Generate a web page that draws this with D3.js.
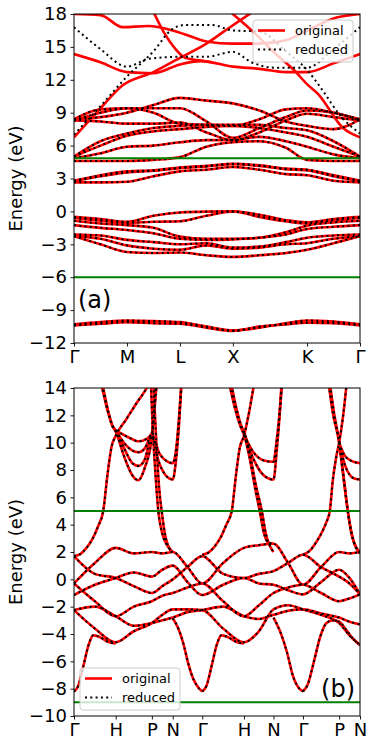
<!DOCTYPE html>
<html><head><meta charset="utf-8">
<script src="https://cdn.jsdelivr.net/npm/d3@7"></script>
<style>body{margin:0;background:#fff;} svg{display:block;font-family:"DejaVu Sans",sans-serif;}</style>
</head><body><svg id="c" width="374" height="747"></svg>
<script>
// ---------------- Panel (a) data ----------------
const kLabelsA = ["Γ","M","L","X","K","Γ"];
const kTicksA = [0,1,2,3,4.4,5.4];
const kGridA = [0,0.5,1,1.5,2,2.5,3,3.5,4,4.4,4.9,5.4];
const yTicksA = [-12,-9,-6,-3,0,3,6,9,12,15,18];
const greenA = [4.85,-6];
// bands where original and reduced coincide (values on kGridA)
const sharedA = [
  [-10.3,-10.1,-9.95,-10.0,-10.1,-10.5,-10.85,-10.6,-10.2,-9.95,-10.05,-10.3],
  [-10.4,-10.25,-10.1,-10.2,-10.25,-10.6,-10.9,-10.5,-10.3,-10.15,-10.2,-10.4],
  [-0.5,-0.7,-0.95,-0.4,-0.1,-0.02,0.0,-0.3,-0.8,-1.0,-0.7,-0.5],
  [-0.6,-0.85,-1.05,-0.95,-0.9,-0.4,0.0,-0.5,-0.9,-1.1,-0.8,-0.6],
  [-0.85,-1.1,-1.25,-1.5,-2.3,-2.5,-2.5,-2.4,-1.9,-1.3,-1.0,-0.85],
  [-1.25,-1.5,-1.7,-2.0,-2.5,-2.6,-2.55,-2.4,-2.1,-1.6,-1.4,-1.25],
  [-2.1,-2.2,-2.6,-2.8,-3.0,-2.9,-3.3,-3.2,-2.8,-2.4,-2.2,-2.1],
  [-2.25,-2.5,-3.1,-3.4,-3.5,-3.1,-3.4,-3.3,-3.0,-2.9,-2.5,-2.25],
  [-2.25,-3.0,-3.7,-3.8,-3.75,-4.0,-4.15,-4.0,-3.8,-3.5,-2.9,-2.25],
  [2.65,2.65,2.7,3.2,3.65,3.8,4.05,3.8,3.4,3.3,2.8,2.65],
  [2.75,3.2,3.55,3.7,3.95,4.1,4.3,4.15,3.85,3.75,3.2,2.75],
  [2.8,3.3,3.65,3.75,4.0,4.15,4.35,4.2,3.9,3.8,3.3,2.8],
  [4.6,4.6,4.6,4.7,4.95,5.9,6.3,6.4,5.8,4.7,4.6,4.6],
  [4.85,5.3,5.9,6.0,6.3,6.5,6.5,6.8,6.4,5.9,5.2,4.85],
  [5.0,6.0,6.9,7.3,7.5,7.7,7.8,7.6,7.2,6.8,5.9,5.0],
  [5.0,6.4,7.1,7.6,7.8,7.9,7.9,7.9,7.6,7.4,6.4,5.0],
  [8.3,8.2,8.0,8.0,8.1,7.2,6.5,7.2,8.3,8.9,8.6,8.3],
  [8.3,9.0,9.4,9.4,9.4,8.2,6.7,7.6,8.6,9.2,9.0,8.3],
  [8.4,9.3,9.4,9.0,8.0,7.9,7.8,8.4,9.3,9.4,9.0,8.4],
  [8.4,8.6,9.0,9.7,10.35,10.1,9.85,9.2,8.2,7.8,7.5,8.4]
];
// bands seen only in the original (red) — [k, E]
const origOnlyA = [
  [[0,6.75],[0.5,9.4],[0.92,11.5],[1.5,12.7],[2,14.0],[2.5,15.3],[2.8,16.3],[3.1,17.3],[3.5,18.6]],
  [[2.9,18.4],[3.4,16.3],[3.8,14.4],[4.17,12.8],[4.4,11.6],[4.61,10.7],[5.08,7.6],[5.4,6.75]],
  [[0,14.35],[0.5,13.6],[1,12.7],[1.5,12.6],[2,13.4],[2.4,13.7],[3,13.2],[3.5,13.0],[4,12.7],[4.4,12.7],[4.9,13.5],[5.4,14.35]],
  [[0,18.0],[0.5,17.9],[0.92,16.8],[1.4,16.9],[2,16.3],[2.5,15.5],[3,15.3],[3.5,15.3],[4,15.6],[4.4,16.5],[4.9,17.6],[5.4,18.0]],
  [[1.5,18.2],[1.7,16.3],[1.9,14.9],[2.1,14.0],[2.4,13.75],[2.6,13.6]]
];
// bands seen only in the reduced model (black dotted) — [k, E]
const reducedOnlyA = [
  [[0,7.0],[0.5,9.6],[1,12.3],[1.5,14.6],[1.85,16.6],[2.1,17.0],[2.6,17.0],[3,16.5],[3.5,16.4],[4.0,14.6],[4.4,12.9],[4.7,11.0],[5.0,8.9],[5.4,7.1]],
  [[0,16.8],[0.5,14.8],[1,13.2],[1.4,13.9],[2,14.1],[2.5,14.1],[3,14.55],[3.35,13.6],[3.8,13.1],[4.4,13.1],[4.9,14.8],[5.4,16.8]]
];

// ---------------- Panel (b) data ----------------
const kLabelsB = ["Γ","H","P","N","Γ","H","N","Γ","P","N"];
const kTicksB = [0,1,1.866,2.366,3.073,4.073,4.78,5.487,6.353,6.853];
const kGridB = [0,0.5,1,1.433,1.866,2.116,2.366,2.72,3.073,3.573,4.073,4.43,4.78,5.13,5.487,5.92,6.353,6.6,6.853];
const yTicksB = [-10,-8,-6,-4,-2,0,2,4,6,8,10,12,14];
const greenB = [5,-9];
const dBandsB = [
  [1.7,0.4,0.1,-0.5,-1.0,-0.5,0.0,0.9,1.7,0.4,0.1,0.4,0.6,1.2,1.8,0.9,0.2,-0.3,-1.1],
  [-0.3,1.2,2.3,1.9,2.0,1.9,2.0,0.9,-0.3,1.2,2.3,2.5,2.6,1.2,-0.4,0.9,2.0,1.9,2.0],
  [-0.3,-1.6,-2.7,-2.0,-1.6,-1.2,-1.0,-0.6,-0.3,-1.6,-2.7,-1.9,-1.0,-0.6,-0.4,-1.0,-1.6,-1.4,-1.1],
  [-1.15,-0.4,0.1,0.5,0.2,0.7,1.0,-0.2,-1.15,-0.4,0.1,-0.3,-0.4,-0.8,-1.1,-0.2,0.7,0.1,-1.1],
  [-2.25,-2.0,-2.7,-3.4,-3.2,-3.0,-2.8,-2.4,-2.25,-2.0,-2.7,-2.9,-2.6,-2.3,-2.2,-2.5,-2.8,-3.1,-3.3],
  [-2.25,-3.6,-4.6,-3.8,-3.2,-2.6,-2.2,-2.2,-2.25,-3.6,-4.6,-3.8,-2.2,-1.9,-2.2,-2.6,-3.2,-4.1,-4.8]
];
const spBandsB = [
  [[0,-8.2],[0.1,-7.8],[0.22,-6.4],[0.35,-4.8],[0.46,-4.1],[0.6,-4.2],[0.8,-4.55],[1,-4.7]],
  [[0,1.7],[0.15,1.85],[0.3,2.3],[0.45,3.0],[0.58,3.9],[0.7,5.0],[0.8,7.6],[0.9,9.7],[1,10.5],[1.25,11.7],[1.5,12.9],[1.78,14.2],[1.9,15.0]],
  [[2.366,-2.85],[2.5,-3.6],[2.62,-4.7],[2.75,-6.3],[2.86,-7.3],[3.0,-8.0],[3.073,-8.2]],
  [[3.073,-8.2],[3.173,-7.8],[3.293,-6.4],[3.42,-4.8],[3.53,-4.1],[3.67,-4.2],[3.87,-4.55],[4.073,-4.7]],
  [[3.073,1.8],[3.22,1.95],[3.37,2.4],[3.52,3.1],[3.65,4.0],[3.78,5.0],[3.88,7.6],[3.97,9.6],[4.073,10.5],[4.2,12.3],[4.33,14.5],[4.38,15.2]],
  [[4.78,-2.8],[4.95,-3.9],[5.1,-5.3],[5.25,-7.1],[5.4,-8.0],[5.487,-8.2]],
  [[5.487,-8.2],[5.6,-7.7],[5.75,-6.0],[5.9,-4.2],[6.05,-3.2],[6.2,-3.0],[6.353,-3.1],[6.5,-3.6],[6.7,-4.4],[6.853,-4.8]],
  [[5.487,1.8],[5.65,2.1],[5.8,2.7],[5.95,3.5],[6.05,4.2],[6.13,5.0],[6.2,7.2],[6.28,8.9],[6.353,10.0],[6.45,12.0],[6.53,14.2],[6.56,15.0]]
];
const upperBandsB = [
  [[0.6,15],[0.66,14.2],[0.8,12.4],[0.92,11.2],[1,10.8],[1.2,9.0],[1.4,7.6],[1.54,7.25],[1.7,8.2],[1.866,10.4],[1.92,12.5],[1.97,14.5]],
  [[0.63,15],[0.7,14.0],[0.82,12.3],[0.93,11.2],[1,10.9],[1.2,9.6],[1.4,8.5],[1.55,8.3],[1.7,8.8],[1.866,10.5],[2.05,9.2],[2.25,8.6],[2.366,8.5],[2.45,9.6],[2.52,12],[2.58,14.6]],
  [[1,10.9],[1.25,9.8],[1.45,9.35],[1.55,9.3],[1.7,9.6],[1.866,10.6],[2.0,8.9],[2.2,7.6],[2.366,7.3],[2.44,8.6],[2.52,11.5],[2.58,14.6]],
  [[1,10.9],[1.3,10.4],[1.55,10.1],[1.75,10.3],[1.866,10.7],[1.93,12.5],[1.99,14.6]],
  [[1.84,14.6],[1.88,11.5],[1.95,7.8],[2.02,5.0],[2.12,3.3],[2.25,2.4],[2.366,2.0]],
  [[1.9,14.6],[1.96,10.8],[2.04,6.7],[2.1,5.0],[2.2,3.0],[2.3,2.2],[2.366,2.0]],
  [[3.7,14.6],[3.85,12.6],[4.0,11.1],[4.073,10.6],[4.2,9.0],[4.35,6.5],[4.45,5.0],[4.55,3.4],[4.65,2.7],[4.78,2.6]],
  [[3.75,14.6],[3.9,12.4],[4.0,11.3],[4.073,10.8],[4.2,9.4],[4.35,7.0],[4.5,5.0],[4.6,3.3],[4.7,2.4],[4.78,2.0]],
  [[4.073,10.6],[4.3,9.3],[4.55,8.7],[4.78,8.6],[4.85,10],[4.92,12],[4.98,14.6]],
  [[4.073,10.6],[4.3,8.8],[4.55,7.6],[4.78,7.3],[4.86,9.5],[4.94,12.5],[4.99,14.6]],
  [[6.09,14.6],[6.2,12.2],[6.353,10.0],[6.45,7.6],[6.56,5.0],[6.65,3.3],[6.75,2.4],[6.853,2.0]],
  [[6.12,14.6],[6.23,12.2],[6.353,10.1],[6.47,7.3],[6.58,4.6],[6.7,2.8],[6.853,1.9]],
  [[6.353,10.0],[6.5,9.0],[6.7,8.6],[6.853,8.5]],
  [[6.353,10.0],[6.5,8.3],[6.7,7.4],[6.853,7.3]]
];

// ---------------- drawing ----------------
const svg = d3.select("#c");
const RED = "#ff0000";
const minus = d => d < 0 ? "\u2212" + Math.abs(d) : String(d);

function drawPanel(id, x, y, yTicks, kTicks, kLabels, origBands, redBands, greens, legendPos, tag) {
  const [x0, x1] = x.range(); const [y0, y1] = y.range();
  const g = svg.append("g");
  svg.append("clipPath").attr("id", "clip" + id).append("rect")
    .attr("x", x0).attr("y", y1).attr("width", x1 - x0).attr("height", y0 - y1);
  const plot = g.append("g").attr("clip-path", `url(#clip${id})`);
  const line = d3.line().x(d => x(d[0])).y(d => y(d[1])).curve(d3.curveMonotoneX);
  plot.selectAll("path.orig").data(origBands).join("path").attr("class", "orig")
    .attr("d", line).attr("fill", "none").attr("stroke", RED).attr("stroke-width", 2.6);
  plot.selectAll("path.red").data(redBands).join("path").attr("class", "red")
    .attr("d", line).attr("fill", "none").attr("stroke", "#000").attr("stroke-width", 2)
    .attr("stroke-dasharray", "2,3.3");
  plot.selectAll("line.green").data(greens).join("line").attr("class", "green")
    .attr("x1", x0).attr("x2", x1).attr("y1", d => y(d)).attr("y2", d => y(d))
    .attr("stroke", "#008000").attr("stroke-width", 2);
  const ya = g.append("g").attr("transform", `translate(${x0},0)`)
    .call(d3.axisLeft(y).tickValues(yTicks).tickSize(3.5).tickPadding(3.5).tickFormat(minus));
  const xa = g.append("g").attr("transform", `translate(0,${y0})`)
    .call(d3.axisBottom(x).tickValues(kTicks).tickSize(3.5).tickPadding(3.5).tickFormat((d, i) => kLabels[i]));
  [ya, xa].forEach(a => {
    a.select(".domain").remove();
    a.selectAll("text").attr("font-size", 18).attr("fill", "#000").attr("font-family", "DejaVu Sans");
    a.selectAll("line").attr("stroke", "#000").attr("stroke-width", 0.9);
  });
  g.append("rect").attr("x", x0).attr("y", y1).attr("width", x1 - x0).attr("height", y0 - y1)
    .attr("fill", "none").attr("stroke", "#000").attr("stroke-width", 1);
  g.append("text").attr("transform", `translate(22,${(y0 + y1) / 2}) rotate(-90)`)
    .attr("text-anchor", "middle").attr("font-size", 18).text("Energy (eV)");
  const lg = g.append("g").attr("transform", `translate(${legendPos[0]},${legendPos[1]})`);
  lg.append("rect").attr("x", 0).attr("y", 0).attr("width", 100).attr("height", 42).attr("rx", 3)
    .attr("fill", "#fff").attr("fill-opacity", 0.8).attr("stroke", "#cccccc").attr("stroke-width", 1);
  lg.append("line").attr("x1", 5).attr("x2", 32).attr("y1", 10.5).attr("y2", 10.5)
    .attr("stroke", RED).attr("stroke-width", 2.6);
  lg.append("line").attr("x1", 5).attr("x2", 32).attr("y1", 29.5).attr("y2", 29.5)
    .attr("stroke", "#000").attr("stroke-width", 2).attr("stroke-dasharray", "2,3.3");
  lg.append("text").attr("x", 42).attr("y", 15).attr("font-size", 13).text("original");
  lg.append("text").attr("x", 42).attr("y", 34).attr("font-size", 13).text("reduced");
  g.append("text").attr("x", tag.x).attr("y", tag.y).attr("text-anchor", tag.anchor)
    .attr("font-size", 24).text(tag.text);
}

const xA = d3.scaleLinear().domain([0, 5.4]).range([74, 360]);
const yA = d3.scaleLinear().domain([-12, 18]).range([343, 14]);
const sharedPairsA = sharedA.map(b => kGridA.map((k, i) => [k, b[i]]));
drawPanel("a", xA, yA, yTicksA, kTicksA, kLabelsA,
  sharedPairsA.concat(origOnlyA), sharedPairsA.concat(reducedOnlyA), greenA,
  [253, 20], {x: 78, y: 308, anchor: "start", text: "(a)"});

const xB = d3.scaleLinear().domain([0, 6.853]).range([74, 360]);
const yB = d3.scaleLinear().domain([-10, 14]).range([716, 388]);
const dPairsB = dBandsB.map(b => kGridB.map((k, i) => [k, b[i]]));
const allB = dPairsB.concat(spBandsB, upperBandsB);
drawPanel("b", xB, yB, yTicksB, kTicksB, kLabelsB, allB, allB, greenB,
  [80, 668], {x: 355, y: 697, anchor: "end", text: "(b)"});
</script></body></html>
